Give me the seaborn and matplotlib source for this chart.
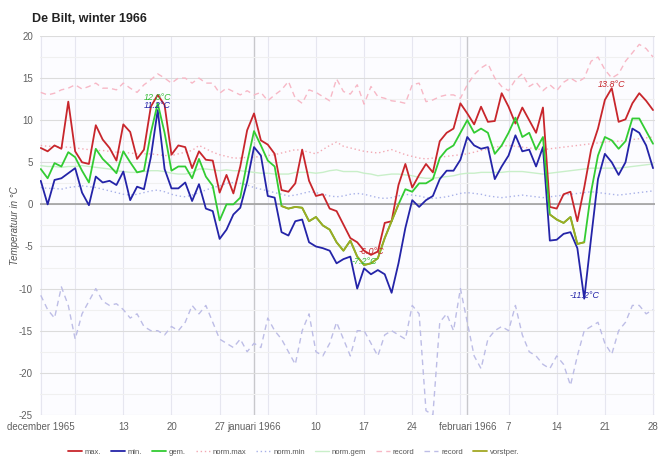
import numpy as np
import pandas as pd
import matplotlib.pyplot as plt
import seaborn as sns

# dagen 1 dec 1965 - 28 feb 1966
dagen = pd.date_range("1965-12-01", "1966-02-28", freq="D")

tmax = [6.7, 6.3, 7.0, 6.6, 12.2, 6.3, 5.0, 4.8, 9.4, 7.7, 6.7, 5.2, 9.5, 8.6, 5.4, 6.5,
        11.6, 13.0, 11.8, 5.9, 7.0, 6.8, 4.3, 6.3, 5.3, 5.2, 1.4, 3.5, 1.3, 4.5, 8.8,
        10.8, 7.6, 7.1, 6.0, 1.7, 1.5, 2.5, 6.5, 2.8, 1.0, 1.2, -0.5, -0.8, -2.4, -4.0,
        -4.5, -5.5, -6.0, -5.6, -2.2, -2.0, 2.3, 4.8, 2.0, 3.5, 4.8, 3.8, 7.5, 8.5, 9.0, 12.0,
        10.8, 9.5, 11.6, 9.8, 9.9, 13.2, 11.6, 9.6, 11.5, 10.0, 8.5, 11.5, -0.3, -0.5,
        1.2, 1.5, -2.0, 2.0, 6.5, 9.0, 12.4, 13.8, 9.8, 10.1, 12.0, 13.2, 12.3, 11.2]
tmin = [2.8, 0.0, 2.9, 3.1, 3.7, 4.3, 1.4, -0.1, 3.3, 2.6, 2.8, 2.3, 3.9, 0.5, 2.1, 1.8,
        5.6, 11.2, 4.2, 1.9, 1.9, 2.6, 0.4, 2.4, -0.5, -0.8, -4.1, -3.0, -1.2, -0.4, 2.7,
        6.8, 5.8, 1.0, 0.8, -3.3, -3.7, -2.0, -1.8, -4.5, -5.0, -5.2, -5.5, -7.0, -6.5, -6.2,
        -10.0, -7.6, -8.3, -7.8, -8.3, -10.5, -7.0, -2.8, 0.5, -0.3, 0.5, 1.0, 3.0, 4.0, 4.0, 5.3,
        8.0, 7.0, 6.6, 6.8, 3.0, 4.5, 5.8, 8.2, 6.3, 6.5, 4.5, 6.8, -4.3, -4.2,
        -3.5, -3.3, -5.2, -11.2, -4.0, 3.0, 6.0, 5.0, 3.5, 5.0, 9.0, 8.5, 7.0, 4.3]
tgem = [4.2, 3.1, 4.9, 4.5, 6.2, 5.6, 4.0, 2.6, 6.6, 5.4, 4.6, 3.7, 6.3, 5.0, 3.8, 4.0,
        8.5, 12.0, 8.5, 4.0, 4.5, 4.5, 3.1, 5.4, 3.3, 2.2, -1.9, 0.0, 0.0, 0.8, 5.0,
        8.7, 7.0, 5.2, 4.5, -0.2, -0.5, -0.3, -0.4, -2.0, -1.5, -2.5, -3.0, -4.5, -5.5, -4.3,
        -6.2, -7.2, -7.0, -6.4, -4.0, -2.0, 0.0, 1.8, 1.5, 2.5, 2.5, 3.0, 5.5, 6.5, 7.0, 8.5,
        10.0, 8.5, 9.0, 8.5, 6.0, 7.0, 8.5, 10.3, 8.0, 8.5, 6.5, 8.0, -1.2, -1.8,
        -2.2, -1.5, -4.7, -4.5, 1.5, 5.8, 8.0, 7.6, 6.6, 7.5, 10.2, 10.2, 8.7, 7.2]

norm_max = [7.0, 6.9, 6.9, 6.8, 6.8, 6.7, 6.6, 6.5, 6.4, 6.4, 6.3, 6.2, 6.2, 6.1, 6.0, 6.0,
            6.0, 5.9, 5.8, 5.8, 6.0, 6.2, 6.4, 7.0, 6.6, 6.2, 5.9, 5.7, 5.5, 5.5, 5.6,
            5.6, 5.7, 5.8, 5.9, 6.1, 6.3, 6.5, 6.4, 6.2, 6.0, 6.5, 7.0, 7.4, 6.9, 6.7,
            6.5, 6.3, 6.2, 6.1, 6.3, 6.5, 6.2, 5.9, 5.7, 5.5, 5.4, 5.5, 5.6, 5.7, 5.8, 5.9,
            6.0, 6.2, 6.4, 6.6, 6.8, 6.9, 7.0, 6.9, 6.8, 6.7, 6.6, 6.5, 6.6, 6.7, 6.8, 6.9,
            7.0, 7.1, 7.2, 7.3, 7.4, 7.5, 7.5, 7.6, 7.7, 7.8, 7.9, 8.0]
norm_min = [2.0, 1.9, 1.9, 1.8, 2.0, 2.1, 2.2, 2.1, 2.0, 1.8, 1.6, 1.4, 1.2, 1.1, 1.2, 1.4,
            1.6, 1.7, 1.5, 1.2, 1.0, 0.9, 1.1, 1.4, 1.7, 2.0, 2.2, 2.5, 2.6, 2.5, 2.3,
            2.0, 1.8, 1.6, 1.4, 1.2, 1.0, 1.1, 1.3, 1.5, 1.4, 1.2, 1.0, 0.9, 1.0, 1.2,
            1.3, 1.2, 1.0, 0.8, 0.7, 0.8, 1.0, 1.2, 1.1, 1.0, 0.8, 0.7, 0.8, 0.9, 1.1, 1.3,
            1.4, 1.3, 1.2, 1.0, 0.9, 0.8, 0.9, 1.0, 1.1, 1.0, 0.9, 0.8, 0.9, 1.0, 1.1, 1.2,
            1.3, 1.4, 1.5, 1.4, 1.3, 1.2, 1.1, 1.2, 1.3, 1.4, 1.5, 1.6]
norm_gem = [4.6, 4.5, 4.5, 4.4, 4.5, 4.5, 4.6, 4.5, 4.4, 4.3, 4.2, 4.0, 3.9, 3.8, 3.8, 3.9,
            4.0, 4.0, 3.9, 3.7, 3.6, 3.6, 3.8, 4.2, 4.2, 4.1, 4.0, 4.1, 4.0, 4.0, 3.9,
            3.8, 3.7, 3.7, 3.6, 3.6, 3.6, 3.8, 3.8, 3.8, 3.7, 3.8, 4.0, 4.1, 3.9, 3.9,
            3.9, 3.7, 3.6, 3.4, 3.5, 3.6, 3.6, 3.5, 3.4, 3.2, 3.1, 3.1, 3.2, 3.3, 3.4, 3.6,
            3.7, 3.7, 3.8, 3.8, 3.8, 3.8, 3.9, 3.9, 3.9, 3.8, 3.7, 3.6, 3.7, 3.8, 3.9, 4.0,
            4.1, 4.2, 4.3, 4.3, 4.3, 4.3, 4.3, 4.4, 4.5, 4.6, 4.7, 4.8]
rec_max = [13.3, 13.0, 13.2, 13.6, 13.8, 14.2, 13.7, 14.0, 14.4, 13.8, 13.8, 13.6, 14.4, 13.8,
           13.3, 14.2, 14.8, 15.5, 15.0, 14.4, 15.0, 15.0, 14.4, 15.0, 14.4, 14.4, 13.2, 13.8,
           13.4, 13.0, 13.5, 13.0, 13.3, 12.3, 13.0, 13.6, 14.6, 12.6, 12.0, 13.6, 13.3, 12.8,
           12.3, 14.9, 13.4, 13.1, 14.2, 11.9, 14.0, 12.8, 12.6, 12.3, 12.2, 12.0, 14.2, 14.4,
           12.2, 12.4, 12.8, 13.0, 13.0, 12.6, 14.2, 15.4, 16.2, 16.7, 15.0, 14.0, 13.5, 14.8,
           15.5, 14.0, 14.5, 13.5, 14.2, 13.5, 14.5, 15.0, 14.5, 15.0, 17.0, 17.5, 16.0, 15.0,
           15.5, 17.0, 18.0, 19.0, 18.5, 17.5]
rec_min = [-10.8, -12.5, -13.5, -9.8, -12.0, -16.0, -13.0, -11.5, -10.0, -11.5, -12.0, -11.8,
           -12.5, -13.5, -13.0, -14.5, -15.0, -15.0, -15.5, -14.5, -15.0, -14.0, -12.0, -13.0,
           -12.0, -14.0, -16.0, -16.5, -17.0, -16.0, -17.5, -16.5, -17.0, -13.5, -15.0, -16.0,
           -17.5, -19.0, -15.0, -13.0, -17.5, -18.0, -16.5, -14.0, -16.0, -18.0, -15.0, -15.0,
           -16.5, -18.0, -15.5, -15.0, -15.5, -16.0, -12.0, -13.0, -24.5, -25.0, -14.0, -13.0,
           -15.0, -10.0, -14.0, -18.0, -19.5, -16.0, -15.0, -14.5, -15.0, -12.0, -15.5, -17.5,
           -18.0, -19.0, -19.5, -18.0, -19.0, -21.5, -18.0, -15.0, -14.5, -14.0, -16.5, -17.8,
           -15.0, -14.0, -12.0, -12.0, -13.0, -12.5]

# vorstperiodes (eerste en laatste dag), daar wordt gem. olijfgroen
vorst_perioden = [(35, 52), (74, 79)]

df = pd.DataFrame({"datum": dagen, "max": tmax, "min": tmin, "gem": tgem,
                   "norm_max": norm_max, "norm_min": norm_min, "norm_gem": norm_gem,
                   "rec_max": rec_max, "rec_min": rec_min})

sns.set_theme(style="white")
plt.rcParams['font.family'] = ['Liberation Sans', 'DejaVu Sans']
plt.rcParams['axes.unicode_minus'] = False

fig = plt.figure(figsize=(6.65, 4.61), dpi=100)
ax = fig.add_axes([0.060, 0.100, 0.925, 0.822])
ax.set_facecolor("#fcfcff")

sns.lineplot(data=df, x="datum", y="max", ax=ax, color="#c8262c", lw=1.3, label="max.", zorder=5)
sns.lineplot(data=df, x="datum", y="min", ax=ax, color="#2424a8", lw=1.3, label="min.", zorder=5)
sns.lineplot(data=df, x="datum", y="gem", ax=ax, color="#33cc33", lw=1.3, label="gem.", zorder=5)
sns.lineplot(data=df, x="datum", y="norm_max", ax=ax, color="#f2a9b3", lw=1, ls=(0, (1, 2)), label="norm.max")
sns.lineplot(data=df, x="datum", y="norm_min", ax=ax, color="#a9b2e8", lw=1, ls=(0, (1, 2)), label="norm.min")
sns.lineplot(data=df, x="datum", y="norm_gem", ax=ax, color="#c9efc9", lw=1, label="norm.gem")
sns.lineplot(data=df, x="datum", y="rec_max", ax=ax, color="#f7b8c6", lw=1, ls=(0, (4, 3)), label="record")
sns.lineplot(data=df, x="datum", y="rec_min", ax=ax, color="#bdbde6", lw=1, ls=(0, (4, 3)), label="record")
for k, (a, b) in enumerate(vorst_perioden):
    sns.lineplot(data=df.iloc[a:b + 1], x="datum", y="gem", ax=ax, color="#a2a823", lw=1.3,
                 label="vorstper." if k == 0 else None, zorder=6)

# assen
ax.set_xlim(dagen[0] - pd.Timedelta(hours=3), dagen[-1] + pd.Timedelta(hours=7))
ax.set_ylim(-25, 20)
ax.set_yticks(np.arange(-25, 21, 5))
ax.set_yticks(np.arange(-25, 20, 2.5), minor=True)
ax.grid(axis="y", which="major", color="#dcdcdc", lw=0.8)
ax.grid(axis="y", which="minor", color="#f0f0f0", lw=0.8)
ax.axhline(0, color="#a0a0a0", lw=1.2, zorder=1)

maandagen = pd.date_range("1965-12-06", "1966-02-28", freq="7D")
for d in maandagen:
    ax.axvline(d, color="#e6e6f0", lw=0.8, zorder=0)
ax.axvline(dagen[0], color="#e6e6f0", lw=0.8, zorder=0)
for d in [pd.Timestamp("1966-01-01"), pd.Timestamp("1966-02-01")]:
    ax.axvline(d, color="#c8c8cc", lw=1, zorder=0)

tick_dagen = [pd.Timestamp(s) for s in ["1965-12-01", "1965-12-13", "1965-12-20", "1965-12-27",
                                        "1966-01-01", "1966-01-10", "1966-01-17", "1966-01-24",
                                        "1966-02-01", "1966-02-07", "1966-02-14", "1966-02-21",
                                        "1966-02-28"]]
tick_labels = ["december 1965", "13", "20", "27", "januari 1966", "10", "17", "24",
               "februari 1966", "7", "14", "21", "28"]
ax.set_xticks(tick_dagen)
ax.set_xticklabels(tick_labels)
ax.tick_params(axis="both", length=0, labelsize=7, labelcolor="#606060")
ax.tick_params(axis="x", pad=5)
ax.tick_params(axis="y", pad=5)
for s in ax.spines.values():
    s.set_visible(False)
ax.set_xlabel("")
ax.set_ylabel("Temperatuur in °C", fontsize=7, color="#555555", style="italic")
ax.yaxis.set_label_coords(-0.033, 0.5)

# extremen
def label(i, waarde, kleur, dy):
    ax.annotate(f"{waarde:.1f}°C", (dagen[i], waarde), xytext=(0, dy), textcoords="offset points",
                ha="center", va="center", fontsize=6.5, color=kleur, style="italic", zorder=8)

label(17, tgem[17], "#33bb33", 4.5)
label(17, tmin[17], "#2424a8", 3)
label(83, tmax[83], "#c8262c", 3)
label(48, tmax[48], "#c8262c", 2.5)
label(47, tgem[47], "#33bb33", 2.5)
label(79, tmin[79], "#2424a8", 2.5)

fig.text(32 / 665, 1 - 19.5 / 461, "De Bilt, winter 1966", ha="left", va="center", fontsize=9,
         fontweight="bold", color="#222222")

handles, labels = ax.get_legend_handles_labels()
ax.legend(handles, labels, loc="center left", bbox_to_anchor=(28 / 615, -37 / 379), ncol=9,
          frameon=False, fontsize=5.5, handlelength=1.8, columnspacing=1.3, handletextpad=0.4,
          labelcolor="#555555", borderpad=0, borderaxespad=0)

fig.savefig("out.png", dpi=100)
